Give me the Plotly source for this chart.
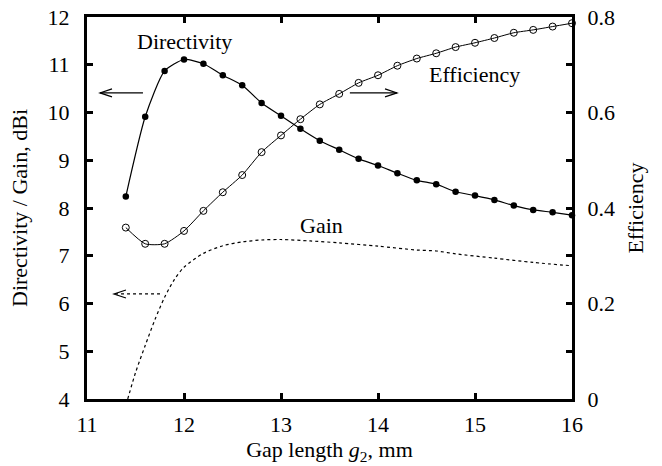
import plotly.graph_objects as go

# ---------------- data ----------------
gap = [11.4, 11.6, 11.8, 12.0, 12.2, 12.4, 12.6, 12.8, 13.0, 13.2, 13.4, 13.6,
       13.8, 14.0, 14.2, 14.4, 14.6, 14.8, 15.0, 15.2, 15.4, 15.6, 15.8, 16.0]
directivity = [8.24, 9.91, 10.87, 11.11, 11.02, 10.78, 10.57, 10.20, 9.93, 9.66, 9.41, 9.22,
               9.03, 8.89, 8.73, 8.58, 8.50, 8.34, 8.26, 8.17, 8.05, 7.96, 7.91, 7.85]
efficiency = [0.359, 0.325, 0.325, 0.352, 0.394, 0.433, 0.469, 0.517, 0.552, 0.586, 0.617, 0.639,
              0.662, 0.678, 0.698, 0.713, 0.724, 0.737, 0.746, 0.756, 0.767, 0.773, 0.780, 0.787]
gain_x = [11.42, 11.5, 11.6, 11.7, 11.8, 11.9, 12.0, 12.2, 12.4, 12.6, 12.8, 13.0,
          13.3, 13.6, 14.0, 14.4, 14.6, 14.8, 15.2, 15.6, 16.0]
gain = [4.0, 4.55, 5.12, 5.66, 6.13, 6.50, 6.76, 7.05, 7.21, 7.29, 7.33, 7.34,
        7.31, 7.27, 7.20, 7.12, 7.10, 7.04, 6.95, 6.86, 6.79]

x_ticks = [11, 12, 13, 14, 15, 16]
y_ticks = [4, 5, 6, 7, 8, 9, 10, 11, 12]
y2_ticks = [0, 0.2, 0.4, 0.6, 0.8]

FONT = "Liberation Serif, Times New Roman, DejaVu Serif, serif"
FS = 22

fig = go.Figure()
fig.add_trace(go.Scatter(
    x=gap, y=directivity, mode="lines+markers",
    line=dict(color="black", width=1.2, shape="spline", smoothing=0.6),
    marker=dict(symbol="circle", size=6.5, color="black"),
    name="Directivity", cliponaxis=False))
fig.add_trace(go.Scatter(
    x=gap, y=efficiency, mode="lines+markers", yaxis="y2",
    line=dict(color="black", width=1.0, shape="spline", smoothing=0.6),
    marker=dict(symbol="circle-open", size=7, color="black", line=dict(width=1)),
    name="Efficiency", cliponaxis=False))
fig.add_trace(go.Scatter(
    x=gain_x, y=gain, mode="lines",
    line=dict(color="black", width=1.2, dash="dot", shape="spline", smoothing=0.8),
    name="Gain"))

# ---------------- text labels ----------------
labels = [("Directivity", 12.01, 11.48), ("Efficiency", 14.99, 10.79), ("Gain", 13.42, 7.64)]
for txt, lx, ly in labels:
    fig.add_annotation(x=lx, y=ly, text=txt, showarrow=False,
                       font=dict(family=FONT, size=FS, color="black"))

# ---------------- arrows ----------------
arrows = [  # (tail_x, head_x, y, dash)
    (11.577, 11.134, 10.41, "solid"),
    (13.71, 14.196, 10.41, "solid"),
    (11.753, 11.278, 6.20, "dot"),
]
for tx, hx, ay, dash in arrows:
    fig.add_shape(type="line", x0=tx, x1=hx, y0=ay, y1=ay, xref="x", yref="y",
                  line=dict(color="black", width=1.2, dash=dash))
    d = 12 if hx > tx else -12
    fig.add_shape(type="path", xref="x", yref="y", xsizemode="pixel", ysizemode="pixel",
                  xanchor=hx, yanchor=ay,
                  path=f"M {-d},4 L 0,0 L {-d},-4",
                  line=dict(color="black", width=1.2))

axis_common = dict(
    showline=True, linecolor="black", linewidth=3, ticks="inside", ticklen=6,
    tickwidth=3, tickcolor="black", showgrid=False, zeroline=False, automargin=False,
    tickfont=dict(family=FONT, size=FS, color="black"),
)

fig.update_layout(
    width=662, height=466,
    margin=dict(l=87, r=90, t=17, b=67),
    paper_bgcolor="white", plot_bgcolor="white",
    showlegend=False,
    font=dict(family=FONT, size=FS, color="black"),
    xaxis=dict(range=[11, 16], tickvals=x_ticks, mirror="ticks",
               title=dict(text="Gap length <i>g</i><sub>2</sub>, mm",
                          font=dict(family=FONT, size=FS), standoff=2),
               ticklabelstandoff=4, **axis_common),
    yaxis=dict(range=[4, 12], tickvals=y_ticks,
               title=dict(text="Directivity / Gain, dBi",
                          font=dict(family=FONT, size=FS), standoff=14),
               ticklabelstandoff=10, **axis_common),
    yaxis2=dict(range=[0, 0.8], tickvals=y2_ticks, overlaying="y", side="right",
                minor=dict(dtick=0.1, ticks="inside", ticklen=6, tickwidth=3, tickcolor="black"),
                title=dict(text="Efficiency", font=dict(family=FONT, size=FS), standoff=14),
                ticklabelstandoff=8, **axis_common),
)

fig.write_html("out.html", config={"displayModeBar": False},
               post_script="document.body.style.margin='0';document.body.style.overflow='hidden';")
